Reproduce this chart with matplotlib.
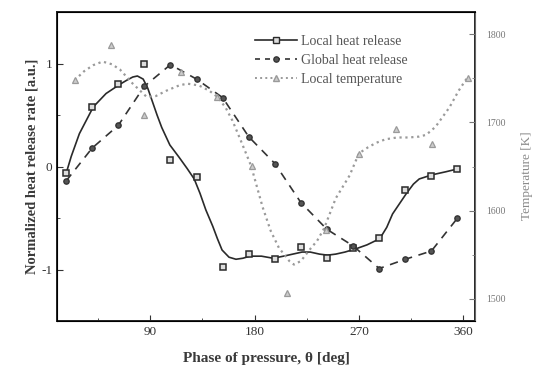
import matplotlib
matplotlib.use("Agg")
import matplotlib.pyplot as plt
from matplotlib.lines import Line2D
from matplotlib.ticker import MultipleLocator

plt.rcParams['font.family'] = ['Liberation Serif', 'DejaVu Serif']

# sampled phases and normalized heat release
theta = [17.5, 40, 62.5, 85, 107.5, 130, 152.5, 175, 197.5, 220, 242.5, 265,
         287.5, 310, 332.5, 355]
local_hr = [-0.06, 0.58, 0.80, 1.00, 0.06, -0.10, -0.98, -0.85, -0.90, -0.78,
            -0.89, -0.79, -0.69, -0.23, -0.09, -0.02]
global_hr = [-0.14, 0.18, 0.40, 0.78, 0.99, 0.85, 0.67, 0.29, 0.03, -0.35,
             -0.61, -0.77, -0.99, -0.90, -0.82, -0.50]

# smoothed local heat release trend
fit_theta = [18, 22, 29, 35, 41, 52, 64, 70, 75, 79, 84, 88, 92, 96, 100, 107,
             115, 122, 128, 133, 138, 144, 148, 152, 158, 164, 170, 176, 186,
             196, 205, 213, 221, 228, 236, 243, 250, 258, 267, 277, 288, 294,
             299, 305, 311, 317, 322, 333, 345, 356]
fit_hr = [-0.05, 0.10, 0.32, 0.45, 0.58, 0.71, 0.80, 0.84, 0.87, 0.88, 0.85,
          0.76, 0.63, 0.50, 0.38, 0.21, 0.09, -0.02, -0.12, -0.26, -0.42,
          -0.58, -0.70, -0.81, -0.88, -0.90, -0.89, -0.87, -0.87, -0.89,
          -0.87, -0.85, -0.83, -0.83, -0.85, -0.86, -0.85, -0.83, -0.80,
          -0.76, -0.70, -0.59, -0.46, -0.36, -0.26, -0.17, -0.12, -0.08,
          -0.05, -0.02]

# local temperature samples and trend
temp_theta = [25, 56, 85, 117, 148, 178, 208, 242, 270, 302, 333, 364]
temp = [1748, 1788, 1708, 1757, 1729, 1651, 1507, 1578, 1664, 1693, 1676, 1750]
temp_fit_theta = [25, 33, 41, 49, 57, 64, 75, 87, 95, 104, 115, 122, 132, 141,
                  148, 155, 161, 168, 177, 187, 194, 201, 210, 214, 220, 227,
                  234, 240, 250, 262, 270, 278, 285, 293, 303, 313, 322, 328,
                  336, 348, 356, 364]
temp_fit = [1748, 1758, 1765, 1769, 1766, 1760, 1744, 1729, 1730, 1736, 1742,
            1744, 1742, 1736, 1729, 1717, 1702, 1680, 1651, 1604, 1577, 1558,
            1543, 1539, 1543, 1555, 1566, 1580, 1614, 1640, 1665, 1672, 1677,
            1681, 1683, 1683, 1684, 1686, 1695, 1717, 1736, 1752]

c_local = '#2a2a2a'
c_global = '#333333'
c_temp = '#9a9a9a'

fig = plt.figure(figsize=(5.36, 3.69), dpi=100)
ax = fig.add_axes([0.107, 0.130, 0.779, 0.837])
ax2 = ax.twinx()

ax.plot(fit_theta, fit_hr, '-', color=c_local, lw=1.2)
ax.plot(theta, local_hr, 's', ms=3.8, mfc='#dddddd', mec=c_local, mew=1.1,
        ls='none')
ax.plot(theta, global_hr, '--o', color=c_global, lw=1.2, dashes=(5, 4),
        ms=3.8, mfc='#555555', mec=c_global)
ax2.plot(temp_fit_theta, temp_fit, ':', color=c_temp, lw=1.6)
ax2.plot(temp_theta, temp, '^', ms=4, mfc='#cccccc', mec=c_temp, mew=0.9,
         ls='none')

ax.set_xlim(10, 370)
ax.set_ylim(-1.5, 1.5)
ax2.set_ylim(1475, 1825)

ax.xaxis.set_major_locator(MultipleLocator(90))
ax.xaxis.set_minor_locator(MultipleLocator(45))
ax.yaxis.set_major_locator(MultipleLocator(1))
ax.yaxis.set_minor_locator(MultipleLocator(0.5))
ax2.yaxis.set_major_locator(MultipleLocator(100))
ax2.yaxis.set_minor_locator(MultipleLocator(50))

ax.tick_params(which='both', direction='in', top=False, labelsize=9.5,
               colors='#333333')
ax.tick_params(which='major', length=4)
ax.tick_params(which='minor', length=2)
ax2.tick_params(which='both', direction='in', labelsize=7, colors='#777777',
                pad=8)
ax2.tick_params(which='major', length=4)
ax2.tick_params(which='minor', length=2)
ax.yaxis.set_major_formatter(plt.FuncFormatter(lambda v, p: '%d' % v))

for sp in ax.spines.values():
    sp.set_linewidth(1.4)
    sp.set_color('#222222')
ax2.spines['right'].set_color('#666666')

ax.set_xlabel('Phase of pressure, θ [deg]', fontsize=11, fontweight='bold',
              color='#3a3a3a', labelpad=10)
ax.set_ylabel('Normalized heat release rate [a.u.]', fontsize=10.5,
              fontweight='bold', color='#3a3a3a', labelpad=2)
ax2.set_ylabel('Temperature [K]', fontsize=9.5, color='#8a8a8a')
ax2.yaxis.set_label_coords(1.11, 0.47)

handles = [
    Line2D([], [], color=c_local, lw=1.2, marker='s', ms=3.8,
           mfc='#dddddd', mec=c_local),
    Line2D([], [], color=c_global, lw=1.2, ls='--', dashes=(3, 3),
           marker='o', ms=3.8, mfc='#555555', mec=c_global),
    Line2D([], [], color=c_temp, lw=1.4, ls=':', marker='^', ms=4,
           mfc='#cccccc', mec=c_temp),
]
labels = ['Local heat release', 'Global heat release', 'Local temperature']
leg = ax.legend(handles, labels, loc='upper left',
                bbox_to_anchor=(0.46, 0.945), frameon=False, fontsize=10,
                handlelength=3.0, labelspacing=0.45, handletextpad=0.3,
                borderaxespad=0)
for t in leg.get_texts():
    t.set_color('#555555')

fig.savefig('out.png', dpi=100)
